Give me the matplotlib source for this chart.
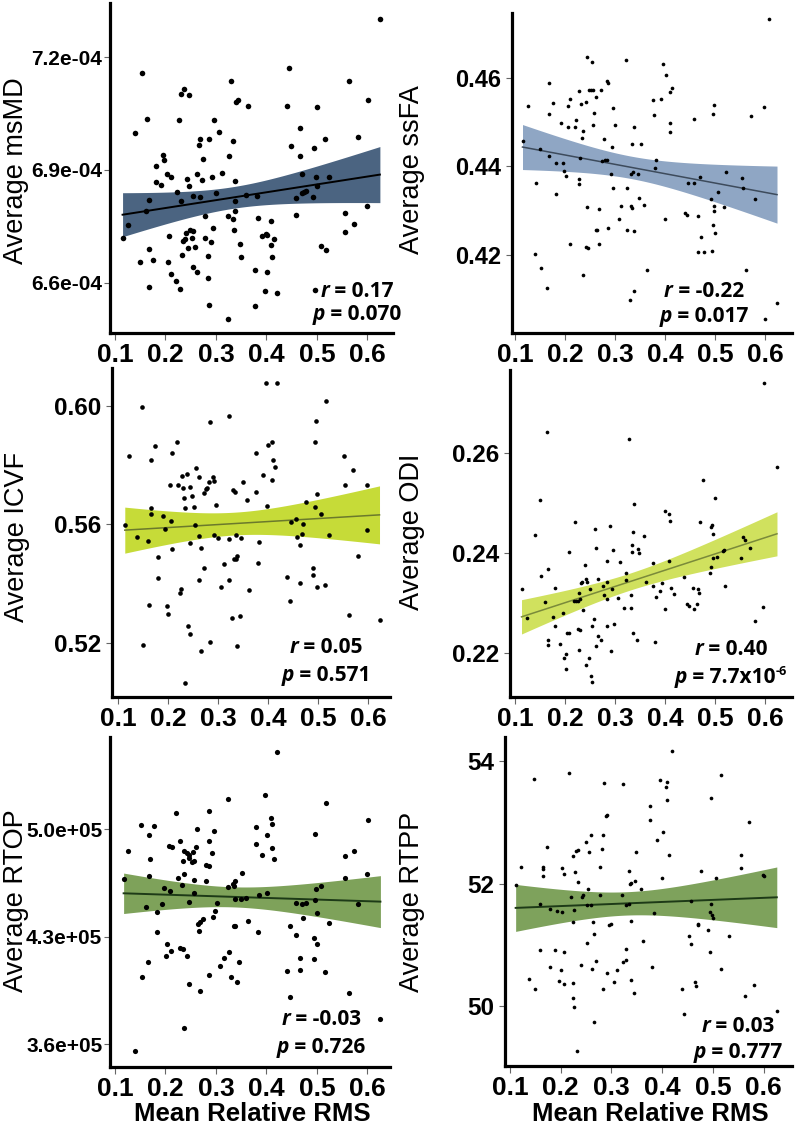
import numpy as np
import matplotlib
matplotlib.use("Agg")
import matplotlib.pyplot as plt
from matplotlib import font_manager as fm
from matplotlib.font_manager import FontProperties
from matplotlib.transforms import IdentityTransform

# ---------------------------------------------------------------- data
XTICKS = [0.1, 0.2, 0.3, 0.4, 0.5, 0.6]

# Panel 1: Average msMD (values in units of 1e-4)
msmd_x = [0.625,0.444,0.153,0.330,0.564,0.236,0.230,0.246,0.344,0.340,
          0.601,0.364,0.440,0.501,0.164,0.227,0.297,0.140,0.307,0.467,
          0.269,0.286,0.517,0.582,0.266,0.334,0.448,0.494,0.196,0.198,
          0.325,0.466,0.274,0.181,0.203,0.211,0.262,0.293,0.313,0.471,
          0.181,0.192,0.242,0.246,0.273,0.338,0.498,0.500,0.524,0.223,
          0.254,0.268,0.301,0.360,0.381,0.474,0.479,0.471,0.458,0.492,
          0.168,0.230,0.338,0.161,0.338,0.599,0.555,0.125,0.279,0.324,
          0.333,0.384,0.409,0.459,0.573,0.115,0.240,0.248,0.254,0.295,
          0.335,0.556,0.207,0.234,0.238,0.253,0.279,0.291,0.348,0.392,
          0.399,0.402,0.415,0.410,0.167,0.244,0.259,0.508,0.518,0.150,
          0.176,0.206,0.232,0.285,0.350,0.411,0.211,0.221,0.254,0.262,
          0.285,0.378,0.401,0.167,0.228,0.397,0.421,0.496,0.286,0.378,
          0.323]
msmd_y_e4 = [7.302,7.172,7.158,7.137,7.137,7.115,7.102,7.100,7.087,7.082,
             7.086,7.069,7.069,7.067,7.035,7.034,7.034,6.998,7.001,7.012,
             6.982,6.982,6.983,6.987,6.967,6.976,6.963,6.959,6.940,6.926,
             6.938,6.938,6.928,6.910,6.889,6.880,6.888,6.880,6.891,6.890,
             6.869,6.861,6.875,6.858,6.872,6.870,6.882,6.857,6.880,6.841,
             6.831,6.829,6.840,6.833,6.830,6.841,6.843,6.840,6.825,6.827,
             6.819,6.818,6.817,6.790,6.791,6.803,6.785,6.754,6.777,6.778,
             6.770,6.771,6.764,6.779,6.756,6.720,6.733,6.739,6.738,6.745,
             6.741,6.735,6.725,6.712,6.715,6.719,6.720,6.707,6.704,6.724,
             6.729,6.727,6.717,6.700,6.690,6.692,6.694,6.697,6.687,6.654,
             6.660,6.655,6.674,6.670,6.668,6.668,6.622,6.604,6.643,6.628,
             6.613,6.633,6.629,6.589,6.583,6.577,6.572,6.581,6.541,6.538,
             6.504]
msmd_ticks_e4 = [6.6, 6.9, 7.2]

# Panel 2: Average ssFA
ssfa_x = [0.607,0.244,0.254,0.322,0.395,0.401,0.284,0.286,0.167,0.409,
          0.414,0.228,0.248,0.252,0.255,0.262,0.272,0.296,0.242,0.232,
          0.210,0.206,0.1765,0.125,0.167,0.258,0.192,0.206,0.220,0.222,
          0.236,0.234,0.255,0.278,0.300,0.294,0.338,0.334,0.351,0.376,
          0.391,0.377,0.409,0.409,0.458,0.495,0.498,0.571,0.597,0.115,
          0.149,0.168,0.182,0.195,0.198,0.202,0.230,0.228,0.227,0.142,
          0.182,0.274,0.280,0.284,0.291,0.296,0.323,0.331,0.336,0.346,
          0.382,0.380,0.348,0.358,0.331,0.312,0.333,0.244,0.267,0.307,
          0.400,0.285,0.264,0.262,0.324,0.337,0.209,0.268,0.242,0.245,
          0.140,0.151,0.164,0.235,0.337,0.330,0.364,0.446,0.457,0.469,
          0.491,0.497,0.498,0.517,0.505,0.521,0.554,0.556,0.580,0.439,
          0.443,0.465,0.471,0.466,0.477,0.494,0.496,0.500,0.562,0.600,
          0.624]
ssfa_y = [0.4732,0.4647,0.4635,0.4639,0.4631,0.4606,0.4593,0.4587,0.4588,0.4567,
          0.4577,0.4569,0.4571,0.4572,0.4572,0.4556,0.4571,0.4531,0.4545,0.4541,
          0.4551,0.4536,0.4542,0.4536,0.4518,0.4519,0.4498,0.4489,0.4489,0.4505,
          0.4480,0.4463,0.4494,0.4461,0.4493,0.4444,0.4488,0.4450,0.4449,0.4549,
          0.4551,0.4515,0.4497,0.4478,0.4507,0.4518,0.4539,0.4513,0.4533,0.4456,
          0.4439,0.4422,0.4407,0.4408,0.4389,0.4378,0.4418,0.4372,0.4359,0.4363,
          0.4337,0.4412,0.4415,0.4414,0.4382,0.4350,0.4350,0.4383,0.4387,0.4383,
          0.4414,0.4395,0.4327,0.4313,0.4310,0.4309,0.4305,0.4307,0.4304,0.4280,
          0.4281,0.4260,0.4255,0.4255,0.4255,0.4253,0.4224,0.4225,0.4217,0.4214,
          0.4201,0.4169,0.4124,0.4154,0.4118,0.4098,0.4166,0.4361,0.4361,0.4376,
          0.4326,0.4311,0.4298,0.4308,0.4342,0.4387,0.4374,0.4351,0.4326,0.4295,
          0.4289,0.4288,0.4241,0.4205,0.4207,0.4209,0.4266,0.4250,0.4166,0.4055,
          0.4090]
ssfa_ticks = [0.42, 0.44, 0.46]

# Panel 3: Average ICVF
icvf_x = [0.395,0.418,0.148,0.515,0.321,0.283,0.495,0.218,0.407,0.399,
          0.494,0.173,0.122,0.165,0.208,0.375,0.552,0.409,0.413,0.255,
          0.569,0.204,0.220,0.227,0.229,0.231,0.234,0.238,0.243,0.248,
          0.252,0.261,0.271,0.275,0.278,0.282,0.289,0.292,0.295,0.330,
          0.333,0.349,0.357,0.375,0.389,0.398,0.407,0.553,0.597,0.497,
          0.475,0.494,0.505,0.165,0.165,0.113,0.137,0.159,0.189,0.194,
          0.205,0.207,0.253,0.261,0.243,0.265,0.291,0.299,0.321,0.335,
          0.346,0.382,0.445,0.456,0.457,0.469,0.468,0.463,0.521,0.598,
          0.179,0.179,0.161,0.223,0.226,0.271,0.262,0.311,0.305,0.322,
          0.335,0.337,0.332,0.379,0.361,0.438,0.443,0.464,0.490,0.489,
          0.498,0.514,0.580,0.197,0.200,0.239,0.243,0.265,0.283,0.328,
          0.343,0.337,0.150,0.233,0.561,0.623]
icvf_y = [0.6075,0.6075,0.5995,0.6015,0.5966,0.5945,0.5948,0.5878,0.5878,0.5866,
          0.5878,0.5863,0.5830,0.5816,0.5840,0.5841,0.5831,0.5817,0.5794,0.5791,
          0.5783,0.5732,0.5732,0.5763,0.5722,0.5690,0.5654,0.5768,0.5726,0.5696,
          0.5659,0.5758,0.5706,0.5718,0.5723,0.5741,0.5758,0.5747,0.5666,0.5715,
          0.5707,0.5742,0.5681,0.5707,0.5765,0.5661,0.5749,0.5731,0.5733,0.5701,
          0.5674,0.5659,0.5636,0.5653,0.5633,0.5597,0.5558,0.5543,0.5629,0.5585,
          0.5612,0.5517,0.5596,0.5559,0.5535,0.5520,0.5564,0.5552,0.5550,0.5563,
          0.5555,0.5539,0.5607,0.5618,0.5556,0.5599,0.5567,0.5531,0.5564,0.5580,
          0.5489,0.5417,0.5328,0.5368,0.5382,0.5453,0.5413,0.5466,0.5387,0.5413,
          0.5483,0.5492,0.5481,0.5469,0.5378,0.5421,0.5341,0.5401,0.5453,0.5428,
          0.5388,0.5394,0.5492,0.5324,0.5296,0.5257,0.5229,0.5172,0.5203,0.5285,
          0.5291,0.5189,0.5193,0.5063,0.5292,0.5278]
icvf_ticks = [0.52, 0.56, 0.60]

# Panel 4: Average ODI
odi_x = [0.597,0.163,0.328,0.623,0.149,0.476,0.499,0.337,0.399,0.407,
         0.410,0.219,0.289,0.139,0.260,0.335,0.357,0.469,0.494,0.492,
         0.496,0.207,0.262,0.295,0.333,0.346,0.348,0.334,0.151,0.166,
         0.240,0.284,0.310,0.407,0.375,0.495,0.504,0.516,0.518,0.552,
         0.555,0.560,0.570,0.492,0.490,0.113,0.124,0.159,0.176,0.179,
         0.180,0.166,0.165,0.190,0.195,0.197,0.202,0.204,0.208,0.232,
         0.233,0.242,0.243,0.250,0.265,0.276,0.284,0.294,0.306,0.322,
         0.322,0.331,0.217,0.222,0.226,0.228,0.230,0.235,0.277,0.284,
         0.226,0.230,0.253,0.258,0.284,0.266,0.271,0.261,0.228,0.291,
         0.297,0.317,0.331,0.335,0.344,0.362,0.375,0.381,0.389,0.393,
         0.400,0.412,0.418,0.379,0.438,0.443,0.448,0.456,0.457,0.463,
         0.466,0.468,0.520,0.595,0.579,0.242,0.248,0.252,0.253,0.202]
odi_y = [0.2740,0.2641,0.2628,0.2571,0.2506,0.2546,0.2510,0.2498,0.2484,0.2478,
         0.2464,0.2462,0.2453,0.2437,0.2447,0.2441,0.2435,0.2461,0.2455,0.2451,
         0.2439,0.2402,0.2411,0.2407,0.2416,0.2409,0.2400,0.2403,0.2355,0.2369,
         0.2377,0.2385,0.2383,0.2385,0.2381,0.2391,0.2393,0.2405,0.2407,0.2391,
         0.2432,0.2427,0.2410,0.2373,0.2360,0.2328,0.2270,0.2302,0.2272,0.2330,
         0.2254,0.2227,0.2217,0.2219,0.2281,0.2191,0.2198,0.2241,0.2241,0.2340,
         0.2342,0.2348,0.2342,0.2328,0.2348,0.2334,0.2343,0.2328,0.2311,0.2361,
         0.2346,0.2316,0.2304,0.2304,0.2304,0.2321,0.2308,0.2286,0.2316,0.2309,
         0.2249,0.2247,0.2254,0.2269,0.2254,0.2234,0.2227,0.2215,0.2207,0.2205,
         0.2259,0.2291,0.2290,0.2240,0.2226,0.2343,0.2335,0.2313,0.2324,0.2340,
         0.2288,0.2330,0.2319,0.2223,0.2353,0.2298,0.2294,0.2330,0.2288,0.2298,
         0.2328,0.2320,0.2334,0.2292,0.2265,0.2177,0.2191,0.2155,0.2142,0.2169]
odi_ticks = [0.22, 0.24, 0.26]

# Panel 5: Average RTOP (values in units of 1e5)
rtop_x = [0.421,0.324,0.398,0.518,0.221,0.287,0.410,0.411,0.601,0.152,
          0.177,0.168,0.263,0.297,0.379,0.401,0.497,0.125,0.206,0.212,
          0.229,0.236,0.242,0.246,0.247,0.254,0.260,0.286,0.293,0.379,
          0.392,0.411,0.416,0.556,0.573,0.169,0.234,0.252,0.256,0.280,
          0.287,0.117,0.168,0.224,0.237,0.256,0.280,0.352,0.556,0.599,
          0.232,0.197,0.208,0.256,0.324,0.335,0.338,0.333,0.402,0.385,
          0.509,0.498,0.497,0.500,0.162,0.183,0.194,0.246,0.303,0.338,
          0.349,0.360,0.459,0.471,0.478,0.472,0.582,0.299,0.295,0.269,
          0.274,0.264,0.266,0.364,0.335,0.338,0.383,0.446,0.458,0.525,
          0.183,0.203,0.211,0.201,0.229,0.234,0.243,0.325,0.315,0.309,
          0.466,0.494,0.501,0.494,0.165,0.154,0.246,0.269,0.287,0.330,
          0.341,0.346,0.441,0.467,0.517,0.446,0.564,0.236,0.626,0.140]
rtop_y_e5 = [5.505,5.194,5.225,5.173,5.107,5.120,5.075,5.034,5.062,5.029,
             5.023,4.962,5.005,4.988,5.012,4.964,4.969,4.860,4.890,4.882,
             4.921,4.860,4.843,4.832,4.810,4.854,4.882,4.925,4.843,4.906,
             4.834,4.880,4.806,4.823,4.858,4.804,4.793,4.788,4.791,4.767,
             4.758,4.676,4.695,4.680,4.710,4.669,4.662,4.715,4.684,4.708,
             4.639,4.615,4.597,4.587,4.621,4.630,4.665,4.641,4.587,4.569,
             4.630,4.613,4.541,4.456,4.493,4.463,4.513,4.528,4.517,4.547,
             4.543,4.552,4.517,4.511,4.517,4.424,4.513,4.467,4.430,4.398,
             4.413,4.385,4.337,4.404,4.372,4.367,4.330,4.369,4.313,4.391,
             4.330,4.252,4.209,4.178,4.224,4.220,4.172,4.202,4.165,4.109,
             4.163,4.293,4.254,4.157,4.133,4.035,3.990,3.948,4.053,4.037,
             4.003,4.139,4.079,4.083,4.072,3.909,3.935,3.703,3.764,3.555]
rtop_ticks_e5 = [3.6, 4.3, 5.0]

# Panel 6: Average RTPP
rtpp_x = [0.419,0.147,0.217,0.516,0.285,0.322,0.395,0.410,0.408,0.409,
          0.496,0.376,0.376,0.292,0.289,0.572,0.401,0.259,0.283,0.250,
          0.389,0.173,0.234,0.230,0.225,0.256,0.282,0.349,0.414,0.555,
          0.121,0.164,0.164,0.165,0.203,0.207,0.229,0.233,0.277,0.334,
          0.336,0.347,0.399,0.476,0.555,0.507,0.599,0.600,0.111,0.159,
          0.178,0.193,0.203,0.220,0.226,0.241,0.244,0.253,0.252,0.260,
          0.277,0.321,0.358,0.338,0.329,0.334,0.338,0.383,0.457,0.497,
          0.495,0.498,0.501,0.224,0.264,0.295,0.299,0.265,0.252,0.362,
          0.160,0.189,0.206,0.178,0.200,0.239,0.270,0.262,0.291,0.310,
          0.322,0.329,0.328,0.452,0.470,0.471,0.491,0.495,0.531,0.457,
          0.380,0.516,0.137,0.149,0.196,0.206,0.224,0.224,0.284,0.305,
          0.338,0.344,0.464,0.466,0.439,0.582,0.564,0.227,0.265,0.443,
          0.626,0.232]
rtpp_y = [54.166,53.719,53.806,53.784,53.648,53.626,53.702,53.664,53.577,53.369,
          53.402,53.266,53.037,53.129,53.102,53.015,52.846,52.802,52.802,52.682,
          52.709,52.595,52.546,52.529,52.458,52.518,52.567,52.518,52.475,52.464,
          52.273,52.267,52.246,52.120,52.256,52.164,52.191,52.027,52.267,52.202,
          52.000,52.049,52.087,52.202,52.251,52.087,52.136,52.125,51.973,51.673,
          51.591,51.558,51.542,51.776,51.569,51.782,51.815,51.918,51.651,51.651,
          51.809,51.809,51.907,52.005,51.651,51.673,51.384,51.525,51.722,51.673,
          51.531,51.493,51.438,51.367,51.373,51.329,51.345,51.176,51.034,51.067,
          50.920,50.920,50.887,50.636,50.582,50.674,50.729,50.603,50.543,50.582,
          50.718,50.756,50.931,51.143,51.345,51.318,51.236,50.887,51.154,51.013,
          50.642,50.614,50.445,50.287,50.418,50.363,50.374,50.129,50.276,50.396,
          50.434,50.211,50.391,50.325,50.276,50.352,50.172,49.992,49.747,49.872,
          49.927,49.267]
rtpp_ticks = [50, 52, 54]

ylabels = ["Average msMD", "Average ssFA", "Average ICVF",
           "Average ODI", "Average RTOP", "Average RTPP"]
r_values = ["0.17", "-0.22", "0.05", "0.40", "-0.03", "0.03"]
p_values = ["0.070", "0.017", "0.571", "7.7x10", "0.726", "0.777"]
p_exponents = ["", "", "", "-6", "", ""]
xlabel_text = "Mean Relative RMS"

# ---------------------------------------------------------------- fonts
avail = {f.name for f in fm.fontManager.ttflist}
has_narrow = "Liberation Sans Narrow" in avail
SANS = "Liberation Sans"
STAT = "Open Sans" if "Open Sans" in avail else "DejaVu Sans"
stat_italic_ok = any(f.name == STAT and f.style == "italic" for f in fm.fontManager.ttflist)
STAT_IT = STAT if stat_italic_ok else SANS

if has_narrow:
    fp_xtick = FontProperties(family="Liberation Sans Narrow", weight="bold", size=20)
else:
    fp_xtick = FontProperties(family=SANS, weight="bold", size=19)

W, H = 795, 1124
fig = plt.figure(figsize=(W / 100, H / 100), dpi=100)

# ---------------------------------------------------------------- layout / style per panel
# rect in pixels: left, top, right, bottom
panels = [
    dict(x=msmd_x, y=np.array(msmd_y_e4) * 1e-4, ticks=np.array(msmd_ticks_e4) * 1e-4,
         fmt=lambda v: f"{v:.1e}", rect=(110, 3, 393, 333), xlim=(0.0901, 0.651),
         ylim=(6.466e-4, 7.3445e-4), band="#4b6481", line="#000000", lw=1.4, ms=16,
         ytick_fp=FontProperties(family=SANS, weight="bold", size=15),
         ylab=(16, 171), stat=(357, 297, 320), tickpad=1.5),
    dict(x=ssfa_x, y=ssfa_y, ticks=ssfa_ticks, fmt=lambda v: f"{v:.2f}",
         rect=(512, 13, 792, 333), xlim=(0.094, 0.654), ylim=(0.4023, 0.4746),
         band="#8fa6c4", line="#3d4b5c", lw=1.1, ms=7,
         ytick_fp=FontProperties(family=SANS, weight="bold", size=17),
         ylab=(412, 170), stat=(704, 297, 322), tickpad=4),
    dict(x=icvf_x, y=icvf_y, ticks=icvf_ticks, fmt=lambda v: f"{v:.2f}",
         rect=(112, 368, 390, 697), xlim=(0.0874, 0.644), ylim=(0.5017, 0.6127),
         band="#c6db38", line="#6b7a2c", lw=1.1, ms=11,
         ytick_fp=FontProperties(family="Liberation Sans Narrow" if has_narrow else SANS,
                                 weight="bold", size=21 if has_narrow else 17.5),
         ylab=(17, 537), stat=(326, 653, 681), tickpad=4),
    dict(x=odi_x, y=odi_y, ticks=odi_ticks, fmt=lambda v: f"{v:.2f}",
         rect=(510, 370, 792, 697), xlim=(0.090, 0.653), ylim=(0.2113, 0.2765),
         band="#d0e15e", line="#7a8a3a", lw=1.1, ms=7,
         ytick_fp=FontProperties(family="Liberation Sans Narrow" if has_narrow else SANS,
                                 weight="bold", size=21 if has_narrow else 17.5),
         ylab=(412, 532), stat=(731, 655, 683), tickpad=4),
    dict(x=rtop_x, y=np.array(rtop_y_e5) * 1e5, ticks=np.array(rtop_ticks_e5) * 1e5,
         fmt=lambda v: f"{v:.1e}", rect=(110, 737, 390, 1067), xlim=(0.090, 0.645),
         ylim=(3.452e5, 5.601e5), band="#7ea25a", line="#1d3a17", lw=1.4, ms=14,
         ytick_fp=FontProperties(family=SANS, weight="bold", size=15),
         ylab=(16, 901), stat=(321, 1025, 1053), tickpad=1.5),
    dict(x=rtpp_x, y=rtpp_y, ticks=rtpp_ticks, fmt=lambda v: f"{v:d}",
         rect=(505, 737, 792, 1066), xlim=(0.090, 0.656), ylim=(49.02, 54.40),
         band="#7ea25c", line="#1d3a17", lw=1.4, ms=7,
         ytick_fp=FontProperties(family=SANS, weight="bold", size=17.5),
         ylab=(412, 902), stat=(738, 1032, 1058), tickpad=4),
]

T_CRIT = 1.98  # 95% two-sided t value for ~120 d.o.f.

axes = []
for i, P in enumerate(panels):
    l, t, r, b = P["rect"]
    ax = fig.add_axes([l / W, 1 - b / H, (r - l) / W, (b - t) / H])
    axes.append(ax)
    x = np.asarray(P["x"], float)
    y = np.asarray(P["y"], float)

    # OLS fit with 95% confidence band
    slope, icpt = np.polyfit(x, y, 1)
    xs = np.linspace(x.min(), x.max(), 200)
    yhat = icpt + slope * xs
    resid = y - (icpt + slope * x)
    n = len(x)
    s = np.sqrt(np.sum(resid ** 2) / (n - 2))
    se = s * np.sqrt(1.0 / n + (xs - x.mean()) ** 2 / np.sum((x - x.mean()) ** 2))
    ax.fill_between(xs, yhat - T_CRIT * se, yhat + T_CRIT * se,
                    color=P["band"], lw=0, zorder=1)
    ax.plot(xs, yhat, color=P["line"], lw=P["lw"], zorder=2)
    ax.scatter(x, y, s=P["ms"], color="black", lw=0, zorder=3)

    ax.set_xlim(*P["xlim"])
    ax.set_ylim(*P["ylim"])
    ax.set_xticks(XTICKS)
    ax.set_xticklabels([f"{v:.1f}" for v in XTICKS], fontproperties=fp_xtick)
    ax.set_yticks(P["ticks"])
    ax.set_yticklabels([P["fmt"](v) for v in P["ticks"]], fontproperties=P["ytick_fp"])
    ax.tick_params(axis="x", length=5, width=0.8, color="#666666", pad=2)
    ax.tick_params(axis="y", length=4, width=0.8, color="#666666", pad=P["tickpad"])

    for side in ("top", "right"):
        ax.spines[side].set_visible(False)
    for side in ("left", "bottom"):
        ax.spines[side].set_linewidth(2.3)
        ax.spines[side].set_color("black")
    ax.patch.set_alpha(0)

    # y label
    fig.text(P["ylab"][0] / W, 1 - P["ylab"][1] / H, ylabels[i], rotation=90,
             ha="center", va="center", fontsize=19.5, family=SANS)

# x labels for bottom row
for i in (4, 5):
    l, t, r, b = panels[i]["rect"]
    fig.text(((l + r) / 2 + 2) / W, 1 - 1121 / H, xlabel_text, ha="center",
             va="baseline", fontsize=18.5, weight="bold", family=SANS)

# ---------------------------------------------------------------- stat annotations
renderer = fig.canvas.get_renderer()


def stat_line(cx, baseline_top, pieces):
    objs = []
    for txt, kind in pieces:
        if kind == "it":
            kw = dict(family=STAT_IT, style="italic", weight="bold", size=15)
            dy = 0
        elif kind == "sup":
            kw = dict(family=STAT, weight="bold", size=9)
            dy = 8
        else:
            kw = dict(family=STAT, weight="bold", size=15)
            dy = 0
        o = fig.text(0, 0, txt, transform=IdentityTransform(), ha="left",
                     va="baseline", **kw)
        objs.append((o, dy))
    widths = [o.get_window_extent(renderer).width for o, _ in objs]
    xpos = cx - sum(widths) / 2
    ybase = H - baseline_top
    for (o, dy), w in zip(objs, widths):
        o.set_position((xpos, ybase + dy))
        xpos += w


for i, P in enumerate(panels):
    cx, rb, pb = P["stat"]
    stat_line(cx, rb, [("r", "it"), (" = " + r_values[i], "b")])
    pieces = [("p", "it"), (" = " + p_values[i], "b")]
    if p_exponents[i]:
        pieces.append((p_exponents[i], "sup"))
    stat_line(cx, pb, pieces)

fig.savefig("out.png", dpi=100)
